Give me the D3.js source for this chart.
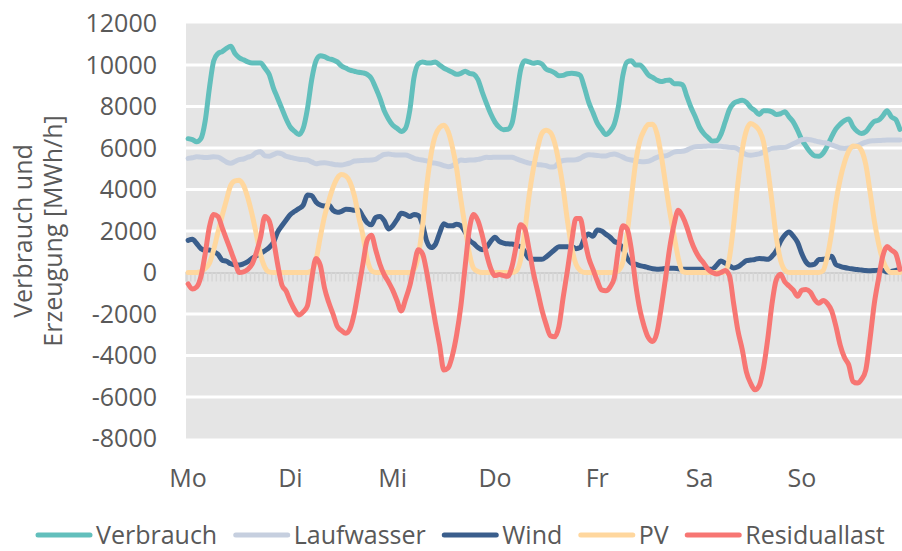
<!DOCTYPE html>
<html lang="de">
<head>
<meta charset="utf-8">
<script src="https://d3js.org/d3.v7.min.js"></script>
<style>
    body { margin: 0; background: #fff; }
    text { font-family: "Open Sans", sans-serif; fill: #595959; }
</style>
</head>
<body>
<script>
    // Tageslabels (jeweils 24 Stunden)
    var days = ["Mo", "Di", "Mi", "Do", "Fr", "Sa", "So"];
    var yTicks = [-8000, -6000, -4000, -2000, 0, 2000, 4000, 6000, 8000, 10000, 12000];

    // stündliche Werte, MWh/h (168 Stunden)
    var verbrauch = [
        6450, 6400, 6300, 6450, 7300, 8900, 10200, 10550, 10650, 10800, 10900, 10550, 10350, 10250, 10150, 10100, 10100, 10100, 9850, 9550, 8900, 8400, 7900, 7400,
        7000, 6800, 6650, 6950, 7900, 9300, 10200, 10450, 10400, 10300, 10250, 10150, 9950, 9850, 9750, 9700, 9650, 9620, 9550, 9350, 8900, 8400, 7800, 7400,
        7100, 6950, 6800, 6950, 7800, 9400, 10050, 10150, 10100, 10100, 10150, 10000, 9850, 9750, 9650, 9550, 9600, 9700, 9600, 9550, 9300, 8700, 8150, 7650,
        7250, 7000, 6880, 6900, 7200, 8400, 9750, 10200, 10150, 10080, 10120, 10050, 9800, 9720, 9620, 9480, 9500, 9580, 9600, 9580, 9500, 8900, 8200, 7700,
        7200, 6900, 6650, 6800, 7150, 8050, 9500, 10150, 10200, 10000, 10000, 9800, 9520, 9400, 9270, 9200, 9250, 9280, 9100, 9100, 9050, 8500, 7950, 7500,
        7000, 6700, 6500, 6330, 6350, 6650, 7250, 7850, 8150, 8250, 8300, 8200, 7950, 7800, 7620, 7800, 7800, 7740, 7620, 7650, 7750, 7500, 7250, 6850,
        6400, 6080, 5800, 5620, 5600, 5750, 6100, 6550, 6920, 7150, 7320, 7400, 7030, 6800, 6700, 6780, 7050, 7280, 7340, 7550, 7800, 7500, 7380, 6900
    ];
    var laufwasser = [
        5500, 5530, 5580, 5560, 5540, 5550, 5580, 5560, 5450, 5320, 5260, 5350, 5440, 5470, 5560, 5620, 5780, 5820, 5620, 5600, 5680, 5760, 5720, 5600,
        5550, 5500, 5460, 5440, 5420, 5330, 5240, 5280, 5290, 5260, 5220, 5190, 5180, 5220, 5280, 5370, 5390, 5400, 5410, 5420, 5450, 5580, 5690, 5710,
        5680, 5660, 5660, 5660, 5600, 5500, 5450, 5420, 5380, 5300, 5270, 5220, 5150, 5100, 5150, 5300, 5420, 5400, 5420, 5420, 5450, 5500, 5550, 5540,
        5560, 5550, 5550, 5560, 5550, 5480, 5400, 5330, 5270, 5250, 5200, 5180, 5150, 5080, 5100, 5300, 5400, 5420, 5420, 5430, 5500, 5620, 5680, 5660,
        5640, 5620, 5620, 5680, 5710, 5650, 5560, 5460, 5420, 5380, 5350, 5340, 5360, 5450, 5550, 5600, 5620, 5700, 5800, 5830, 5840, 5900, 6000, 6060,
        6070, 6080, 6100, 6100, 6100, 6080, 6060, 6030, 6020, 5950, 5800, 5680, 5650, 5680, 5720, 5800, 5900, 5980, 6000, 6020, 6030, 6100, 6200, 6300,
        6400, 6420, 6400, 6350, 6300, 6260, 6230, 6150, 6080, 6000, 5980, 6000, 6060, 6100, 6200, 6280, 6340, 6350, 6360, 6370, 6380, 6385, 6390, 6390
    ];
    var wind = [
        1550, 1600, 1400, 1150, 1080, 1085, 1000, 880, 590, 540, 420, 360, 360, 420, 520, 680, 800, 920, 1050, 1200, 1450, 1950, 2250, 2530,
        2800, 2950, 3080, 3250, 3730, 3700, 3400, 3250, 3200, 3250, 3000, 2900, 2950, 3050, 3040, 3000, 3010, 2700, 2400, 2300, 2650, 2700, 2500, 2100,
        2250, 2550, 2850, 2800, 2700, 2800, 2750, 2300, 1500, 1200, 1350, 1900, 2350, 2250, 2250, 2330, 2250, 1950, 1550, 1400, 1200, 1100, 1220, 1500,
        1700, 1500, 1420, 1380, 1375, 1300, 1250, 1000, 680, 640, 640, 635, 750, 925, 1100, 1245, 1245, 1245, 1240, 1150, 1200, 1650, 1850, 1750,
        2050, 2000, 1850, 1700, 1500, 1400, 1150, 700, 450, 400, 330, 290, 230, 180, 160, 170, 190, 200, 200, 180, 160, 155, 155, 155,
        155, 155, 155, 160, 350, 550, 450, 330, 220, 280, 420, 570, 600, 630, 680, 660, 635, 780, 1050, 1500, 1800, 1950, 1750, 1450,
        900, 500, 360, 400, 630, 635, 700, 780, 380, 300, 240, 200, 170, 140, 120, 100, 90, 95, 110, 110, 30, 50, 100, 130
    ];
    var pv = [
        0, 0, 0, 50, 200, 450, 1100, 1950, 2750, 3500, 4200, 4420, 4450, 4200, 3600, 2800, 1850, 850, 250, 30, 0, 0, 0, 0,
        0, 0, 0, 0, 0, 80, 600, 1700, 2700, 3450, 4100, 4550, 4720, 4650, 4350, 3700, 2700, 1800, 650, 100, 0, 0, 0, 0,
        0, 0, 0, 0, 0, 150, 800, 2250, 4200, 5700, 6600, 6980, 7100, 6800, 6050, 5000, 3500, 2200, 900, 200, 50, 0, 0, 0,
        0, 0, 0, 0, 0, 80, 600, 2000, 3700, 5000, 6000, 6700, 6850, 6750, 6250, 5300, 4050, 2500, 1200, 400, 100, 0, 0, 0,
        0, 0, 0, 0, 0, 100, 500, 1850, 3600, 5300, 6350, 6850, 7130, 7150, 6700, 5650, 4300, 2950, 1800, 700, 50, 0, 0, 0,
        0, 0, 0, 0, 0, 0, 50, 700, 2300, 4300, 5900, 6850, 7180, 7080, 6850, 6300, 5000, 3400, 1700, 600, 120, 0, 0, 0,
        0, 0, 0, 0, 0, 100, 800, 1950, 3400, 4500, 5300, 5850, 6100, 6080, 5880, 5200, 3900, 2500, 1400, 600, 150, 0, 0, 0
    ];
    var residuallast = [
        -550, -800, -700, -200, 900, 2200, 2800, 2700, 2150, 1600, 1050, 500, 0, 30, 150, 400, 950, 1700, 2700, 2500, 1600, 400, -600, -900,
        -1400, -1800, -2050, -1900, -1600, -300, 680, 350, -750, -1450, -2000, -2600, -2800, -2930, -2700, -1950, -800, 400, 1550, 1800, 1100, 400, -100, -450,
        -850, -1350, -1850, -1300, -650, 300, 1100, 900, 0, -1200, -2400, -3500, -4700, -4600, -4000, -3000, -1600, 300, 2100, 2800, 2500, 1800, 900, 200,
        -150, -100, -150, -180, 300, 1300, 2300, 2100, 1100, 0, -900, -1800, -2500, -3050, -3100, -2600, -1200, 100, 1500, 2600, 2600, 1600, 700, 150,
        -400, -840, -880, -700, -250, 1200, 2250, 2100, 1100, -550, -1800, -2600, -3150, -3330, -2900, -1700, -300, 1200, 2300, 3000, 2700, 2200, 1550, 1050,
        700, 450, 150, 0, -70, 0, 100, -150, -1500, -2800, -3700, -4800, -5350, -5650, -5450, -4600, -3200, -1500, -350, -80, -450, -650, -850, -1150,
        -850, -820, -950, -1300, -1480, -1350, -1500, -1850, -2600, -3500, -4100, -4450, -5250, -5330, -5150, -4700, -3200, -1500, -300, 800, 1250, 1080, 920, 150
    ];

    var series = [
        { name: "Verbrauch", values: verbrauch, color: "#62bfbc" },
        { name: "Laufwasser", values: laufwasser, color: "#c6cfdf" },
        { name: "Wind", values: wind, color: "#3a5e8c" },
        { name: "PV", values: pv, color: "#ffd79e" },
        { name: "Residuallast", values: residuallast, color: "#f77673" }
    ];

    var W = 902, H = 551;
    var plot = { left: 186, right: 902, top: 23.5, bottom: 438.5 };
    var nHours = verbrauch.length;

    var svg = d3.select("body").append("svg")
        .attr("width", W)
        .attr("height", H);

    var x = d3.scaleLinear().domain([0, nHours]).range([plot.left, plot.right]);
    var y = d3.scaleLinear().domain([-8000, 12000]).range([plot.bottom, plot.top]);

    // Hintergrund
    svg.append("rect")
        .attr("x", plot.left).attr("y", plot.top)
        .attr("width", plot.right - plot.left).attr("height", plot.bottom - plot.top)
        .attr("fill", "#e5e5e5");

    // Gitterlinien
    svg.append("g").selectAll("line")
        .data(yTicks.filter(function(d) { return d !== 0 && d !== 12000 && d !== -8000; }))
        .enter().append("line")
        .attr("x1", plot.left).attr("x2", plot.right)
        .attr("y1", function(d) { return y(d); })
        .attr("y2", function(d) { return y(d); })
        .attr("stroke", "#fff")
        .attr("stroke-width", 3);

    // Nulllinie mit Stundenstrichen
    var xAxis = d3.axisBottom(x)
        .tickValues(d3.range(0, nHours + 1))
        .tickSize(9)
        .tickFormat("");
    var gx = svg.append("g")
        .attr("transform", "translate(0," + y(0) + ")")
        .call(xAxis);
    gx.select(".domain").attr("stroke", "#cfcfcf").attr("stroke-width", 2);
    gx.selectAll(".tick line").attr("stroke", "#d6d6d6").attr("stroke-width", 1.5);

    // y-Achsenbeschriftung (ohne Tausenderpunkt, Bindestrich als Minus)
    var yAxis = d3.axisLeft(y)
        .tickValues(yTicks)
        .tickSize(0)
        .tickPadding(0)
        .tickFormat(function(d) { return String(d); });
    var gy = svg.append("g")
        .attr("transform", "translate(157,0)")
        .call(yAxis);
    gy.select(".domain").remove();
    gy.selectAll("text")
        .attr("font-size", "25px")
        .attr("font-family", "Open Sans, sans-serif")
        .attr("fill", "#595959");

    // Tage
    svg.append("g").selectAll("text")
        .data(days)
        .enter().append("text")
        .attr("x", function(d, i) { return x(i * 24 + 0.5); })
        .attr("y", 478)
        .attr("dy", "0.35em")
        .attr("text-anchor", "middle")
        .attr("font-size", "25px")
        .text(function(d) { return d; });

    // Achsentitel
    var title = svg.append("text")
        .attr("transform", "translate(0,231) rotate(-90)")
        .attr("text-anchor", "middle")
        .attr("font-size", "25px");
    title.append("tspan").attr("x", 0).attr("y", 32).text("Verbrauch und");
    title.append("tspan").attr("x", 0).attr("y", 62).text("Erzeugung [MWh/h]");

    // Linien
    var line = d3.line()
        .x(function(d, i) { return x(i + 0.5); })
        .y(function(d) { return y(d); })
        .curve(d3.curveMonotoneX);

    svg.append("g").selectAll("path")
        .data(series)
        .enter().append("path")
        .attr("d", function(s) { return line(s.values); })
        .attr("fill", "none")
        .attr("stroke", function(s) { return s.color; })
        .attr("stroke-width", 5)
        .attr("stroke-linejoin", "round")
        .attr("stroke-linecap", "round");

    // Legende
    var legend = svg.append("g");
    var lx = 36, ly = 535;
    series.forEach(function(s) {
        legend.append("line")
            .attr("x1", lx + 2).attr("x2", lx + 54)
            .attr("y1", ly).attr("y2", ly)
            .attr("stroke", s.color)
            .attr("stroke-width", 5)
            .attr("stroke-linecap", "round");
        var t = legend.append("text")
            .attr("x", lx + 60)
            .attr("y", ly)
            .attr("dy", "0.35em")
            .attr("font-size", "25px")
            .text(s.name);
        lx = lx + 60 + t.node().getComputedTextLength() + 16.5;
    });
</script>
</body>
</html>
